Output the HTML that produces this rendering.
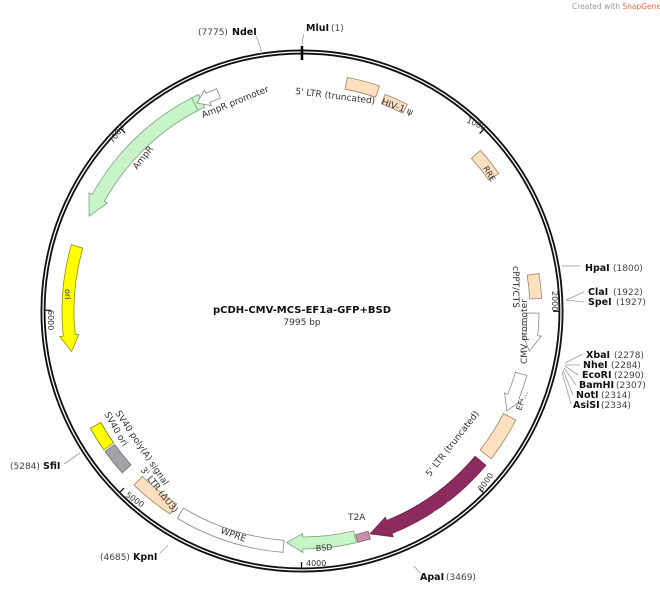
<!DOCTYPE html>
<html><head><meta charset="utf-8"><style>
body{margin:0;background:#fff;width:660px;height:593px;overflow:hidden}
svg{display:block}
text{font-family:"DejaVu Sans","Liberation Sans",sans-serif;font-size:9px;fill:#333}
.b{font-weight:bold;fill:#111;font-size:9.5px}
.n{fill:#444;font-size:9px}
</style></head><body>
<svg id="s" width="660" height="593" viewBox="0 0 660 593">
<text x="572" y="9" style="font-size:7.5px;fill:#999">Created with <tspan fill="#e07050">SnapGene</tspan>®</text>
<g id="feat"></g>
<circle cx="302" cy="311" r="259" fill="none" stroke="#111" stroke-width="5"/>
<circle cx="302" cy="311" r="259" fill="none" stroke="#fff" stroke-width="1.3"/>
<line x1="302" y1="46" x2="302" y2="60" stroke="#000" stroke-width="2.5"/>
<g id="ticks"></g>
<g stroke="#999" stroke-width="0.8" fill="none">
<path d="M256,36 Q260,44 262,55"/>
<path d="M304,34 Q302,40 302,46"/>
<path d="M562,266 L580,266"/>
<path d="M566,300 L584,292 M566,300 L584,302"/>
<path d="M565,363 L583,354 M565,365 L580,365 M565,366 L578,375 M564,368 L576,385 M563,370 L573,395 M562,372 L571,404"/>
<path d="M414,566 L420,573"/>
<path d="M168,545 L160,553"/>
<path d="M80,453 L64,464"/>
</g>
<text x="198" y="35" class="n">(7775)</text><text x="232" y="35" class="b">NdeI</text>
<text x="306" y="31" class="b">MluI</text><text x="331" y="31" class="n">(1)</text>
<text x="585" y="271" class="b">HpaI</text><text x="613" y="271" class="n">(1800)</text>
<text x="588" y="295" class="b">ClaI</text><text x="613" y="295" class="n">(1922)</text>
<text x="588" y="305" class="b">SpeI</text><text x="616" y="305" class="n">(1927)</text>
<text x="586" y="358" class="b">XbaI</text><text x="614" y="358" class="n">(2278)</text>
<text x="583" y="368" class="b">NheI</text><text x="611" y="368" class="n">(2284)</text>
<text x="582" y="378" class="b">EcoRI</text><text x="614" y="378" class="n">(2290)</text>
<text x="579" y="388" class="b">BamHI</text><text x="616" y="388" class="n">(2307)</text>
<text x="576" y="398" class="b">NotI</text><text x="601" y="398" class="n">(2314)</text>
<text x="573" y="408" class="b">AsiSI</text><text x="601" y="408" class="n">(2334)</text>
<text x="420" y="580" class="b">ApaI</text><text x="446" y="580" class="n">(3469)</text>
<text x="100" y="560" class="n">(4685)</text><text x="133" y="560" class="b">KpnI</text>
<text x="10" y="469" class="n">(5284)</text><text x="43" y="469" class="b">SfiI</text>
<text x="302" y="313" text-anchor="middle" class="b" style="font-size:10px">pCDH-CMV-MCS-EF1a-GFP+BSD</text>
<text x="302" y="325" text-anchor="middle" style="font-size:9px">7995 bp</text>
<text transform="translate(203,118) rotate(-22)">AmpR promoter</text>
<text transform="translate(137,170) rotate(-52)">AmpR</text>
<text transform="translate(65,289) rotate(90)" style="font-size:8px;fill:#222">ori</text>
<text transform="translate(295,94) rotate(7)">5' LTR (truncated)</text>
<text transform="translate(381,104) rotate(20)">HIV-1 ψ</text>
<text transform="translate(483,168) rotate(60)" style="font-size:8px">RRE</text>
<text transform="translate(513,266) rotate(90)">cPPT/CTS</text>
<text transform="translate(527,364) rotate(-90)">CMV promoter</text>
<text transform="translate(521,411) rotate(-70)" style="font-size:8px">EF-...</text>
<text transform="translate(430,477) rotate(-52)">5' LTR (truncated)</text>
<text transform="translate(435,516) rotate(-30)" style="font-size:8px;fill:#fff">copGFP</text>
<text x="348" y="520">T2A</text>
<text transform="translate(316,551) rotate(-4)" style="font-size:8px">BSD</text>
<text transform="translate(220,533) rotate(20)">WPRE</text>
<text transform="translate(140,470) rotate(52)">3' LTR (ΔU3)</text>
<text transform="translate(115,413) rotate(56)">SV40 poly(A) signal</text>
<text transform="translate(104,414) rotate(60)">SV40 ori</text>
<text transform="translate(466,122) rotate(25)" style="font-size:8px">1000</text>
<text transform="translate(552,291) rotate(90)" style="font-size:8px">2000</text>
<text transform="translate(482,492) rotate(-55)" style="font-size:8px">3000</text>
<text x="306" y="566" style="font-size:8px">4000</text>
<text transform="translate(125,496) rotate(35)" style="font-size:8px">5000</text>
<text transform="translate(48,310) rotate(90)" style="font-size:8px">6000</text>
<text transform="translate(113,144) rotate(-55)" style="font-size:8px">7000</text>
</svg>
<script>
var cx=302,cy=311;
function P(r,a){a=a*Math.PI/180;return (cx+r*Math.sin(a)).toFixed(1)+","+(cy-r*Math.cos(a)).toFixed(1);}
function box(a1,a2,r0,r1,fill,stroke){
 var lg=Math.abs(a2-a1)>180?1:0;
 return '<path d="M'+P(r1,a1)+' A'+r1+','+r1+' 0 '+lg+' 1 '+P(r1,a2)+' L'+P(r0,a2)+' A'+r0+','+r0+' 0 '+lg+' 0 '+P(r0,a1)+' Z" fill="'+fill+'" stroke="'+stroke+'" stroke-width="0.8"/>';
}
function arr(a1,a2,r0,r1,fill,stroke,h){
 var dir=a2>a1?1:-1; var hb=a2-dir*h; var w=3.5;
 var sw=dir>0?1:0, sw2=dir>0?0:1;
 var rm=(r0+r1)/2;
 return '<path d="M'+P(r1,a1)+' A'+r1+','+r1+' 0 0 '+sw+' '+P(r1,hb)+' L'+P(r1+w,hb)+' L'+P(rm,a2)+' L'+P(r0-w,hb)+' L'+P(r0,hb)+' A'+r0+','+r0+' 0 0 '+sw2+' '+P(r0,a1)+' Z" fill="'+fill+'" stroke="'+stroke+'" stroke-width="0.8"/>';
}
var f='';
f+=box(11,19,226,238,'#fde0c0','#a08060');
f+=box(21,27,222,232,'#fde0c0','#a08060');
f+=box(48,55,228,240,'#fde0c0','#a08060');
f+=box(81,87,228,240,'#fde0c0','#a08060');
f+=arr(90.5,100,225,237,'#fff','#888',4);
f+=arr(106,116,222,234,'#fff','#888',4);
f+=box(117,128,226,240,'#fde0c0','#a08060');
f+=arr(130,163,226,240,'#8e2b5e','#6a1f45',5);
f+=box(163.3,166.5,230,238,'#c890a8','#806070');
f+=arr(166.8,183.8,226,238,'#c8f5c8','#80a080',4);
f+=box(184.5,211,230,242,'#fff','#888');
f+=box(213,224,230,242,'#fde0c0','#a08060');
f+=box(228,234.5,230,242,'#a0a4a8','#707070');
f+=box(235,241,230,242,'#ffff00','#808000');
f+=arr(286,260,228,240,'#ffff00','#909000',4);
f+=arr(332.6,294,226,240,'#c8f5c8','#80a080',5);
f+=box(332.6,334.5,226,240,'#c8f5c8','#80a080');
f+=arr(339,333.2,228,238,'#fff','#888',3);
document.getElementById('feat').innerHTML=f;
var t='';
[1000,2000,3000,4000,5000,6000,7000].forEach(function(b){var a=b/7995*360;t+='<path d="M'+P(256.5,a)+' L'+P(251,a)+'" stroke="#000" stroke-width="1.2"/>';});
document.getElementById('ticks').innerHTML=t;
</script>
</body></html>
